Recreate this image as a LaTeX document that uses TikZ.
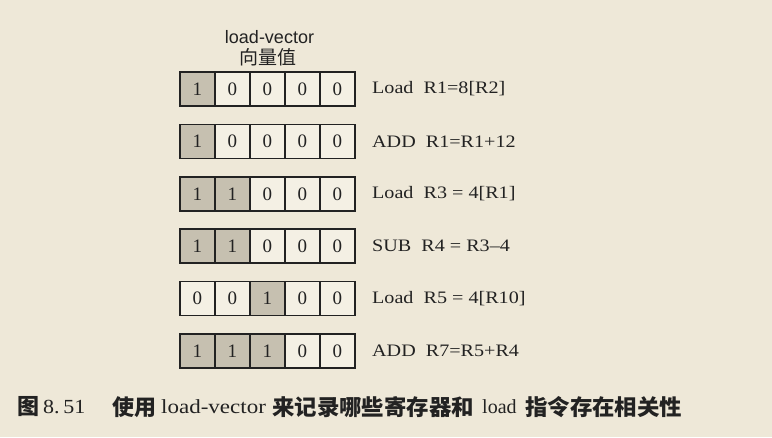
\documentclass[tikz,border=0pt]{standalone}
\usepackage{graphicx}
\usepackage{fontspec}
\setmainfont{Liberation Serif}
\newfontfamily\cjk{Noto Sans CJK SC}
\newfontfamily\arialf{Liberation Sans}
\newcommand{\hsx}[2]{\scalebox{#1}[1]{#2}}
\definecolor{bgc}{HTML}{EEE8D8}
\definecolor{shd}{HTML}{C6C0B0}
\definecolor{offc}{HTML}{F4F0E4}
\definecolor{ink}{HTML}{222222}
\begin{document}
\begin{tikzpicture}[x=1pt,y=-1pt,
  cell/.style={draw=ink,line width=1.6pt,minimum width=35pt,minimum height=34pt,inner sep=0pt,anchor=west,font=\fontsize{19}{19}\selectfont,text=ink},
  on/.style={cell,fill=shd},
  off/.style={cell,fill=offc},
  instr/.style={anchor=west,font=\fontsize{17.5}{17.5}\selectfont,text=ink,inner sep=0pt},
  capz/.style={anchor=west,inner sep=0pt,text=ink,font=\cjk\bfseries\fontsize{22}{22}\selectfont},
  capl/.style={anchor=west,inner sep=0pt,text=ink,font=\rmfamily\fontsize{20}{20}\selectfont}]
\fill[bgc] (0,0) rectangle (772,437);
\useasboundingbox (0,0) rectangle (772,437);
\node[font=\arialf\fontsize{18}{18}\selectfont,text=ink] (t1) at (269.5,37) {load-vector};
\node[font=\cjk\fontsize{19}{19}\selectfont,text=ink] (t2) at (268,57.5) {向量值};
% rows
\foreach \r/\a/\va/\b/\vb/\c/\vc/\lab in {
  0/on/1/off/0/off/0/{Load\ \ R1=8[R2]},
  1/on/1/off/0/off/0/{ADD\ \ R1=R1+12},
  2/on/1/on/1/off/0/{Load\ \ R3 = 4[R1]},
  3/on/1/on/1/off/0/{SUB\ \ R4 = R3--4},
  4/off/0/off/0/on/1/{Load\ \ R5 = 4[R10]},
  5/on/1/on/1/on/1/{ADD\ \ R7=R5+R4}}{
  \pgfmathsetmacro{\yy}{89+52.4*\r}
  \node[\a] (c\r a) at (179,\yy) {\va};
  \node[\b] (c\r b) at (214,\yy) {\vb};
  \node[\c] (c\r c) at (249,\yy) {\vc};
  \node[off] (c\r d) at (284,\yy) {0};
  \node[off] (c\r e) at (319,\yy) {0};
  \node[instr] (l\r) at (372,\yy) {\hsx{1.15}{\lab}};
}
% caption
\node[capz] (cap1) at (17,407) {图};
\node[capl] (cap2) at (43,407) {\hsx{1.1}{8.\,51}};
\node[capz] (cap3) at (112,407) {使用};
\node[capl] (cap4) at (161,407) {\hsx{1.15}{load-vector}};
\node[capz] (cap5) at (272,407) {\hsx{1.02}{来记录哪些寄存器和}};
\node[capl] (cap6) at (482,407) {load};
\node[capz] (cap7) at (525,407) {\hsx{1.02}{指令存在相关性}};
\end{tikzpicture}
\end{document}
